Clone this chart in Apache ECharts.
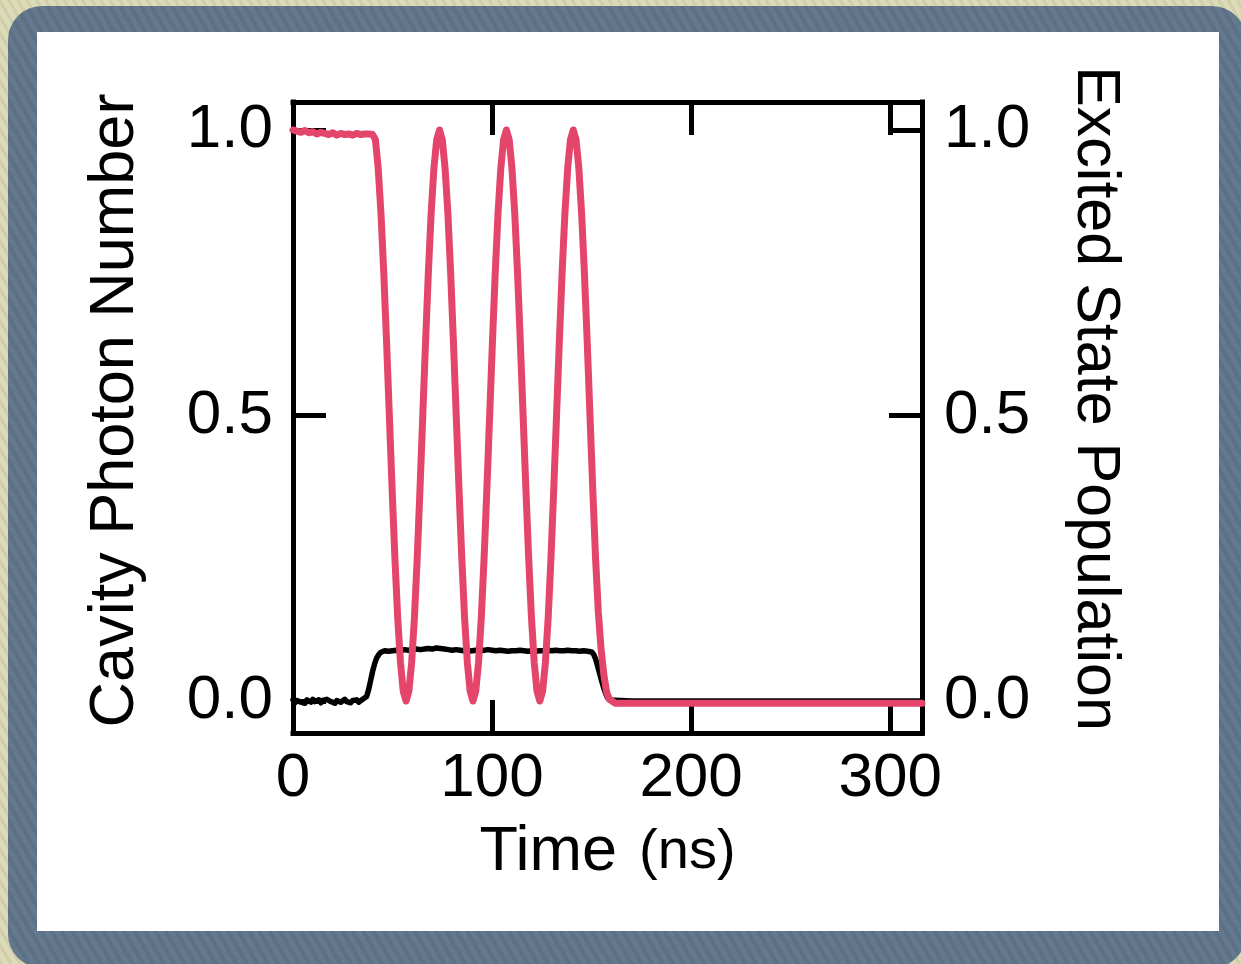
<!DOCTYPE html>
<html>
<head>
<meta charset="utf-8">
<script src="https://cdn.jsdelivr.net/npm/echarts@6/dist/echarts.min.js"></script>
<style>
  html, body { margin: 0; padding: 0; }
  body {
    width: 1241px; height: 964px; overflow: hidden; position: relative;
    background: repeating-linear-gradient(60deg, #d0cfaa 0px, #d0cfaa 3px, #dbdab9 3px, #dbdab9 8px);
  }
  #frame {
    position: absolute; left: 8px; top: 6px; width: 1238px; height: 962px;
    border-radius: 34px;
    background: repeating-linear-gradient(60deg, #5c7086 0px, #5c7086 4px, #65798e 4px, #65798e 9px);
  }
  #panel {
    position: absolute; left: 37px; top: 32px; width: 1182px; height: 899px; background: #ffffff;
  }
  #chart { position: absolute; left: 0; top: 0; width: 1241px; height: 964px; }
</style>
</head>
<body>
<div id="frame"></div>
<div id="panel"></div>
<div id="chart"></div>
<script>
// ---- data ----
const xTickValues = [0, 100, 200, 300];
const yTickValues = [0.0, 0.5, 1.0];

// Cavity photon number (black, left axis)
const cavityTime = [
  0,1,2,3,4,5,6,7,8,9,10,11,12,13,14,15,16,17,18,19,20,21,22,23,24,25,26,27,28,29,30,31,32,33,34,35,36,
  37,38,39,40,41,42,43,44,45,46,
  48,50,52,54,56,58,60,62,64,66,68,70,72,74,76,78,80,82,84,86,88,90,92,94,96,98,100,
  102,104,106,108,110,112,114,116,118,120,122,124,126,128,130,132,134,136,138,140,142,144,146,148,150,
  151,152,153,154,155,156,157,158,159,160,
  170,200,250,316
];
const cavityPhoton = [
  0.002,-0.003,0.001,0.003,-0.002,0.000,-0.004,0.002,0.001,-0.002,0.003,-0.001,0.000,0.002,-0.003,0.001,-0.002,0.003,0.000,-0.001,0.002,-0.004,0.001,0.002,-0.002,0.000,0.003,-0.001,0.002,-0.003,0.001,0.000,0.002,-0.002,0.001,0.003,0.002,
  0.008,0.020,0.036,0.052,0.065,0.075,0.081,0.085,0.087,0.088,
  0.087,0.088,0.089,0.088,0.090,0.089,0.090,0.091,0.090,0.091,0.092,0.091,0.093,0.092,0.091,0.090,0.089,0.090,0.089,0.088,0.087,0.088,0.089,0.088,0.089,0.090,0.089,
  0.088,0.089,0.088,0.087,0.088,0.088,0.089,0.088,0.087,0.088,0.087,0.088,0.088,0.089,0.088,0.089,0.088,0.088,0.089,0.088,0.088,0.087,0.088,0.087,0.086,
  0.082,0.074,0.062,0.049,0.036,0.024,0.014,0.006,0.002,0.000,
  0.000,0.000,0.000,0.000
];

// Excited state population (red, right axis)
const excitedTime = [
  0,2,4,6,8,10,12,14,16,18,20,22,24,26,28,30,32,34,36,38,40,
  41.4,42.8,44.2,45.6,47.0,48.4,49.8,51.2,52.6,54.0,55.4,56.8,
  58.2,59.6,61.0,62.4,63.8,65.2,66.6,68.0,69.4,70.8,72.2,73.6,
  75.0,76.4,77.8,79.2,80.6,82.0,83.4,84.8,86.2,87.6,89.0,90.4,
  91.8,93.2,94.6,96.0,97.4,98.8,100.2,101.6,103.0,104.4,105.8,107.2,
  108.6,110.0,111.4,112.8,114.2,115.6,117.0,118.4,119.8,121.2,122.6,124.0,
  125.4,126.8,128.2,129.6,131.0,132.4,133.8,135.2,136.6,138.0,139.4,140.8,
  142.2,143.6,145.0,146.4,147.8,149.2,150.6,152.0,153.4,154.8,156.2,157.6,159.0,160.2,
  162,200,250,316
];
const excitedPop = [
  1.000,0.998,0.996,0.999,0.995,0.997,0.993,0.996,0.994,0.992,0.995,0.991,0.994,0.992,0.993,0.991,0.994,0.992,0.993,0.993,0.992,
  0.983,0.933,0.854,0.750,0.629,0.500,0.371,0.250,0.146,0.067,0.017,0.000,
  0.017,0.067,0.146,0.250,0.371,0.500,0.629,0.750,0.854,0.933,0.983,1.000,
  0.983,0.933,0.854,0.750,0.629,0.500,0.371,0.250,0.146,0.067,0.017,0.000,
  0.017,0.067,0.146,0.250,0.371,0.500,0.629,0.750,0.854,0.933,0.983,1.000,
  0.983,0.933,0.854,0.750,0.629,0.500,0.371,0.250,0.146,0.067,0.017,0.000,
  0.017,0.067,0.146,0.250,0.371,0.500,0.629,0.750,0.854,0.933,0.983,1.000,
  0.983,0.933,0.854,0.750,0.629,0.500,0.371,0.250,0.155,0.090,0.045,0.015,0.003,0.000,
  -0.004,-0.004,-0.004,-0.004
];

// ---- chart ----
const cavityData = cavityTime.map((t, i) => [t, cavityPhoton[i]]);
const excitedData = excitedTime.map((t, i) => [t, excitedPop[i]]);

const FONT = '"Liberation Sans", Arial, Helvetica, sans-serif';
const AX = { onZero: false, lineStyle: { color: '#000', width: 5, cap: 'square' } };
const TICK = { inside: true, length: 33, lineStyle: { color: '#000', width: 5 } };

const chart = echarts.init(document.getElementById('chart'), null, { renderer: 'canvas' });
chart.setOption({
  animation: false,
  backgroundColor: 'transparent',
  grid: { left: 293, top: 102, width: 629, height: 631, containLabel: false },
  xAxis: [
    {
      type: 'value', position: 'bottom', min: 0, max: 316,
      axisLine: AX,
      axisTick: Object.assign({}, TICK, { customValues: [100, 200, 300] }),
      axisLabel: { customValues: xTickValues, color: '#000', fontSize: 62, fontFamily: FONT, margin: 15 },
      splitLine: { show: false },
      name: '{a|Time}{b|(ns)}', nameLocation: 'middle', nameGap: 88, nameMoveOverlap: false,
      nameTextStyle: {
        color: '#000', fontFamily: FONT,
        rich: {
          a: { fontSize: 63, fontFamily: FONT, color: '#000' },
          b: { fontSize: 56, fontFamily: FONT, color: '#000', padding: [0, 0, 0, 22] }
        }
      }
    },
    {
      type: 'value', position: 'top', min: 0, max: 316,
      axisLine: AX,
      axisTick: Object.assign({}, TICK, { customValues: [100, 200, 300] }),
      axisLabel: { show: false },
      splitLine: { show: false }
    }
  ],
  yAxis: [
    {
      type: 'value', position: 'left', min: -0.056, max: 1.049,
      axisLine: AX,
      axisTick: Object.assign({}, TICK, { customValues: yTickValues }),
      axisLabel: { customValues: yTickValues, color: '#000', fontSize: 62, fontFamily: FONT, margin: 20,
        formatter: v => v.toFixed(1) },
      splitLine: { show: false },
      name: 'Cavity Photon Number', nameLocation: 'middle', nameGap: 146, nameRotate: 90, nameMoveOverlap: false,
      nameTextStyle: { color: '#000', fontSize: 63, fontFamily: FONT, padding: [0, 0, 0, 14] }
    },
    {
      type: 'value', position: 'right', min: -0.056, max: 1.049,
      axisLine: AX,
      axisTick: Object.assign({}, TICK, { customValues: yTickValues }),
      axisLabel: { customValues: yTickValues, color: '#000', fontSize: 62, fontFamily: FONT, margin: 22,
        formatter: v => v.toFixed(1) },
      splitLine: { show: false },
      name: 'Excited State Population', nameLocation: 'middle', nameGap: 142, nameRotate: -90, nameMoveOverlap: false,
      nameTextStyle: { color: '#000', fontSize: 61, fontFamily: FONT, padding: [0, 38, 0, 0] }
    }
  ],
  series: [
    {
      name: 'Cavity Photon Number', type: 'line', xAxisIndex: 0, yAxisIndex: 0,
      data: cavityData, showSymbol: false, smooth: false,
      lineStyle: { color: '#000000', width: 5.5, cap: 'round', join: 'round' }, z: 3
    },
    {
      name: 'Excited State Population', type: 'line', xAxisIndex: 0, yAxisIndex: 1,
      data: excitedData, showSymbol: false, smooth: false,
      lineStyle: { color: '#e3456b', width: 7, cap: 'round', join: 'round' }, z: 4
    }
  ]
});
</script>
</body>
</html>
